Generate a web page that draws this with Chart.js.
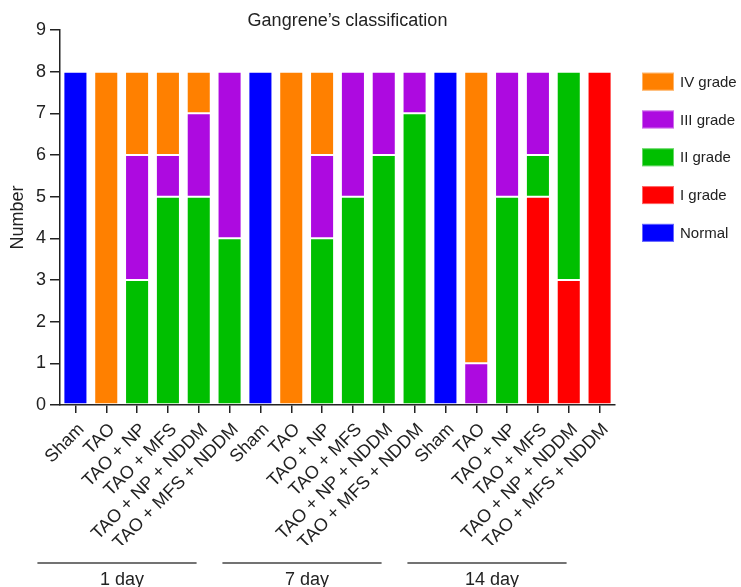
<!DOCTYPE html>
<html>
<head>
<meta charset="utf-8">
<script src="https://cdn.jsdelivr.net/npm/chart.js@4/dist/chart.umd.min.js"></script>
<style>
  html, body { margin: 0; padding: 0; background: #fff; }
  #wrap { width: 741px; height: 587px; position: relative; }
</style>
</head>
<body>
<div id="wrap"><canvas id="cnv"></canvas></div>
<script>
const title = 'Gangrene\u2019s classification';
const groups = ['1 day', '7 day', '14 day'];
const treatments = ['Sham', 'TAO', 'TAO + NP', 'TAO + MFS', 'TAO + NP + NDDM', 'TAO + MFS + NDDM'];
const categories = groups.flatMap(() => treatments);

// counts per bar, stacked bottom to top: I, II, III, IV, Normal
const gradeI   = [0, 0, 0, 0, 0, 0,  0, 0, 0, 0, 0, 0,  0, 0, 0, 5, 3, 8];
const gradeII  = [0, 0, 3, 5, 5, 4,  0, 0, 4, 5, 6, 7,  0, 0, 5, 1, 5, 0];
const gradeIII = [0, 0, 3, 1, 2, 4,  0, 0, 2, 3, 2, 1,  0, 1, 3, 2, 0, 0];
const gradeIV  = [0, 8, 2, 2, 1, 0,  0, 8, 2, 0, 0, 0,  0, 7, 0, 0, 0, 0];
const normal   = [8, 0, 0, 0, 0, 0,  8, 0, 0, 0, 0, 0,  8, 0, 0, 0, 0, 0];

const yTicks = [0, 1, 2, 3, 4, 5, 6, 7, 8, 9];

const FONT = 'Liberation Sans, Arial, Helvetica, sans-serif';

function ds(label, data, color) {
  return {
    label: label,
    data: data,
    backgroundColor: color,
    borderColor: 'rgba(255,255,255,0.35)',
    borderWidth: 1,
    borderSkipped: false,
    barPercentage: 0.78,
    categoryPercentage: 1.0
  };
}

const datasets = [
  ds('I grade', gradeI, '#ff0000'),
  ds('II grade', gradeII, '#00bf00'),
  ds('III grade', gradeIII, '#ad0ae0'),
  ds('IV grade', gradeIV, '#ff8000'),
  ds('Normal', normal, '#0000ff')
];

// legend order as shown in the figure
const legendOrder = ['IV grade', 'III grade', 'II grade', 'I grade', 'Normal'];

const titleText = {
  id: 'titleText',
  afterDraw(chart) {
    const ctx = chart.ctx;
    const area = chart.chartArea;
    ctx.save();
    ctx.font = '18px ' + FONT;
    ctx.fillStyle = '#222';
    ctx.textAlign = 'center';
    ctx.textBaseline = 'middle';
    ctx.fillText(title, (area.left + area.right) / 2 + 10, 21);
    ctx.restore();
  }
};

const sideLegend = {
  id: 'sideLegend',
  afterDraw(chart) {
    const ctx = chart.ctx;
    const area = chart.chartArea;
    const y8 = chart.scales.y.getPixelForValue(8);
    ctx.save();
    ctx.font = '15px ' + FONT;
    ctx.textBaseline = 'middle';
    ctx.textAlign = 'left';
    legendOrder.forEach((name, i) => {
      const d = chart.data.datasets.find(x => x.label === name);
      const cy = y8 + 10 + i * 37.8;
      const x0 = area.right + 27;
      ctx.fillStyle = d.backgroundColor;
      ctx.fillRect(x0, cy - 9, 32, 18);
      ctx.strokeStyle = 'rgba(255,255,255,0.4)';
      ctx.strokeRect(x0 + 0.5, cy - 8.5, 31, 17);
      ctx.fillStyle = '#222';
      ctx.fillText(name, x0 + 38, cy + 1);
    });
    ctx.restore();
  }
};

const groupLabels = {
  id: 'groupLabels',
  afterDraw(chart) {
    const ctx = chart.ctx;
    const x = chart.scales.x;
    const n = treatments.length;
    ctx.save();
    ctx.strokeStyle = '#444';
    ctx.lineWidth = 1.5;
    ctx.fillStyle = '#222';
    ctx.font = '18px ' + FONT;
    ctx.textAlign = 'center';
    ctx.textBaseline = 'middle';
    groups.forEach((g, i) => {
      const a = x.getPixelForValue(i * n) - 38;
      const b = x.getPixelForValue(i * n + n - 1) - 33;
      ctx.beginPath();
      ctx.moveTo(a, 563);
      ctx.lineTo(b, 563);
      ctx.stroke();
      ctx.fillText(g, (a + b) / 2 + 5, 580);
    });
    ctx.restore();
  }
};

new Chart(document.getElementById('cnv'), {
  type: 'bar',
  data: { labels: categories, datasets: datasets },
  options: {
    responsive: true,
    maintainAspectRatio: false,
    animation: false,
    layout: { padding: { left: 0, right: 126, top: 30, bottom: 42 } },
    plugins: {
      legend: { display: false },
      tooltip: { enabled: false },
      title: { display: false }
    },
    scales: {
      x: {
        stacked: true,
        afterFit: s => { s.height = 140; },
        border: { display: true, color: '#222', width: 1.5 },
        grid: { display: true, offset: false, drawOnChartArea: false, drawTicks: true, tickLength: 8, color: '#222', lineWidth: 1.5 },
        ticks: {
          color: '#222',
          maxRotation: 45,
          minRotation: 45,
          autoSkip: false,
          padding: 6,
          labelOffset: 6,
          font: { family: FONT, size: 18 }
        }
      },
      y: {
        stacked: true,
        min: 0,
        max: 9,
        afterFit: s => { s.width = 60; },
        afterBuildTicks: s => { s.ticks = yTicks.map(v => ({ value: v })); },
        border: { display: true, color: '#222', width: 1.5 },
        grid: { display: true, drawOnChartArea: false, drawTicks: true, tickLength: 10, color: '#222', lineWidth: 1.5 },
        ticks: {
          color: '#222',
          padding: 4,
          font: { family: FONT, size: 18 }
        },
        title: {
          display: true,
          text: 'Number',
          color: '#222',
          padding: { top: 7, bottom: 0 },
          font: { family: FONT, size: 18 }
        }
      }
    }
  },
  plugins: [titleText, sideLegend, groupLabels]
});
</script>
</body>
</html>
